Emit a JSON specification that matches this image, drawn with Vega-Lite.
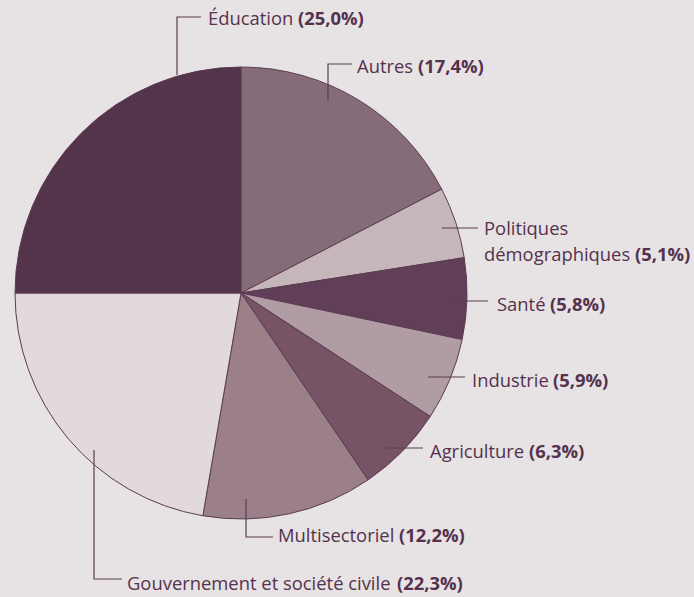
{
  "$schema": "https://vega.github.io/schema/vega-lite/v6.json",
  "width": 694,
  "height": 597,
  "padding": 0,
  "autosize": {"type": "fit", "contains": "padding"},
  "background": "#e7e2e3",
  "config": {"view": {"stroke": null}},
  "datasets": {
    "slices": [
      {"category": "Autres", "share": 17.4, "rank": 1},
      {"category": "Politiques démographiques", "share": 5.1, "rank": 2},
      {"category": "Santé", "share": 5.8, "rank": 3},
      {"category": "Industrie", "share": 5.9, "rank": 4},
      {"category": "Agriculture", "share": 6.3, "rank": 5},
      {"category": "Multisectoriel", "share": 12.2, "rank": 6},
      {"category": "Gouvernement et société civile", "share": 22.3, "rank": 7},
      {"category": "Éducation", "share": 25.0, "rank": 8}
    ],
    "labels": [
      {"name": "Éducation", "pct": "(25,0%)", "nx": -33, "px": 57, "ny": 274, "py": 274},
      {"name": "Autres", "pct": "(17,4%)", "nx": 116, "px": 177, "ny": 226, "py": 226},
      {"name": "Politiques\ndémographiques", "pct": "(5,1%)", "nx": 243, "px": 394, "ny": 64, "py": 38},
      {"name": "Santé", "pct": "(5,8%)", "nx": 256, "px": 309, "ny": -12, "py": -12},
      {"name": "Industrie", "pct": "(5,9%)", "nx": 231, "px": 312, "ny": -88, "py": -88},
      {"name": "Agriculture", "pct": "(6,3%)", "nx": 189, "px": 288, "ny": -159, "py": -159},
      {"name": "Multisectoriel", "pct": "(12,2%)", "nx": 37, "px": 158, "ny": -243, "py": -243},
      {"name": "Gouvernement et société civile", "pct": "(22,3%)", "nx": -114, "px": 156, "ny": -291, "py": -291}
    ],
    "leaders": [
      {"label": "Éducation", "seq": 1, "lx": -64, "ly": 218},
      {"label": "Éducation", "seq": 2, "lx": -64, "ly": 276},
      {"label": "Éducation", "seq": 3, "lx": -40, "ly": 276},
      {"label": "Autres", "seq": 1, "lx": 87, "ly": 192},
      {"label": "Autres", "seq": 2, "lx": 87, "ly": 229},
      {"label": "Autres", "seq": 3, "lx": 111, "ly": 229},
      {"label": "Politiques", "seq": 1, "lx": 201, "ly": 65},
      {"label": "Politiques", "seq": 2, "lx": 237, "ly": 65},
      {"label": "Santé", "seq": 1, "lx": 211, "ly": -8},
      {"label": "Santé", "seq": 2, "lx": 247, "ly": -8},
      {"label": "Industrie", "seq": 1, "lx": 187, "ly": -84},
      {"label": "Industrie", "seq": 2, "lx": 224, "ly": -84},
      {"label": "Agriculture", "seq": 1, "lx": 145, "ly": -155},
      {"label": "Agriculture", "seq": 2, "lx": 182, "ly": -155},
      {"label": "Multisectoriel", "seq": 1, "lx": 5, "ly": -206},
      {"label": "Multisectoriel", "seq": 2, "lx": 5, "ly": -244},
      {"label": "Multisectoriel", "seq": 3, "lx": 32, "ly": -244},
      {"label": "Gouvernement", "seq": 1, "lx": -147, "ly": -157},
      {"label": "Gouvernement", "seq": 2, "lx": -147, "ly": -286},
      {"label": "Gouvernement", "seq": 3, "lx": -119, "ly": -286}
    ]
  },
  "layer": [
    {
      "data": {"name": "slices"},
      "mark": {"type": "arc", "outerRadius": 226, "stroke": "#5b3c53", "strokeWidth": 1},
      "encoding": {
        "x": {"datum": 0, "type": "quantitative", "scale": {"domain": [-241, 453], "nice": false, "zero": false}, "axis": null},
        "y": {"datum": 0, "type": "quantitative", "scale": {"domain": [-304, 293], "nice": false, "zero": false}, "axis": null},
        "theta": {"field": "share", "type": "quantitative", "stack": true},
        "order": {"field": "rank", "type": "quantitative"},
        "color": {
          "field": "category", "type": "nominal", "legend": null,
          "scale": {
            "domain": ["Autres", "Politiques démographiques", "Santé", "Industrie", "Agriculture", "Multisectoriel", "Gouvernement et société civile", "Éducation"],
            "range": ["#856c78", "#c5b6ba", "#613f58", "#b09ca2", "#765466", "#9b808a", "#e2d9db", "#53344b"]
          }
        }
      }
    },
    {
      "data": {"name": "leaders"},
      "mark": {"type": "line", "stroke": "#5b3c53", "strokeWidth": 1.2},
      "encoding": {
        "x": {"field": "lx", "type": "quantitative", "axis": null},
        "y": {"field": "ly", "type": "quantitative", "axis": null},
        "detail": {"field": "label"},
        "order": {"field": "seq", "type": "quantitative"}
      }
    },
    {
      "data": {"name": "labels"},
      "mark": {"type": "text", "align": "left", "baseline": "middle", "font": "Open Sans", "fontSize": 18.4, "color": "#54324d", "lineBreak": "\n", "lineHeight": 25.6},
      "encoding": {
        "x": {"field": "nx", "type": "quantitative", "axis": null},
        "y": {"field": "ny", "type": "quantitative", "axis": null},
        "text": {"field": "name"}
      }
    },
    {
      "data": {"name": "labels"},
      "mark": {"type": "text", "align": "left", "baseline": "middle", "font": "Open Sans", "fontSize": 18.4, "fontWeight": "bold", "color": "#54324d"},
      "encoding": {
        "x": {"field": "px", "type": "quantitative", "axis": null},
        "y": {"field": "py", "type": "quantitative", "axis": null},
        "text": {"field": "pct"}
      }
    }
  ]
}
